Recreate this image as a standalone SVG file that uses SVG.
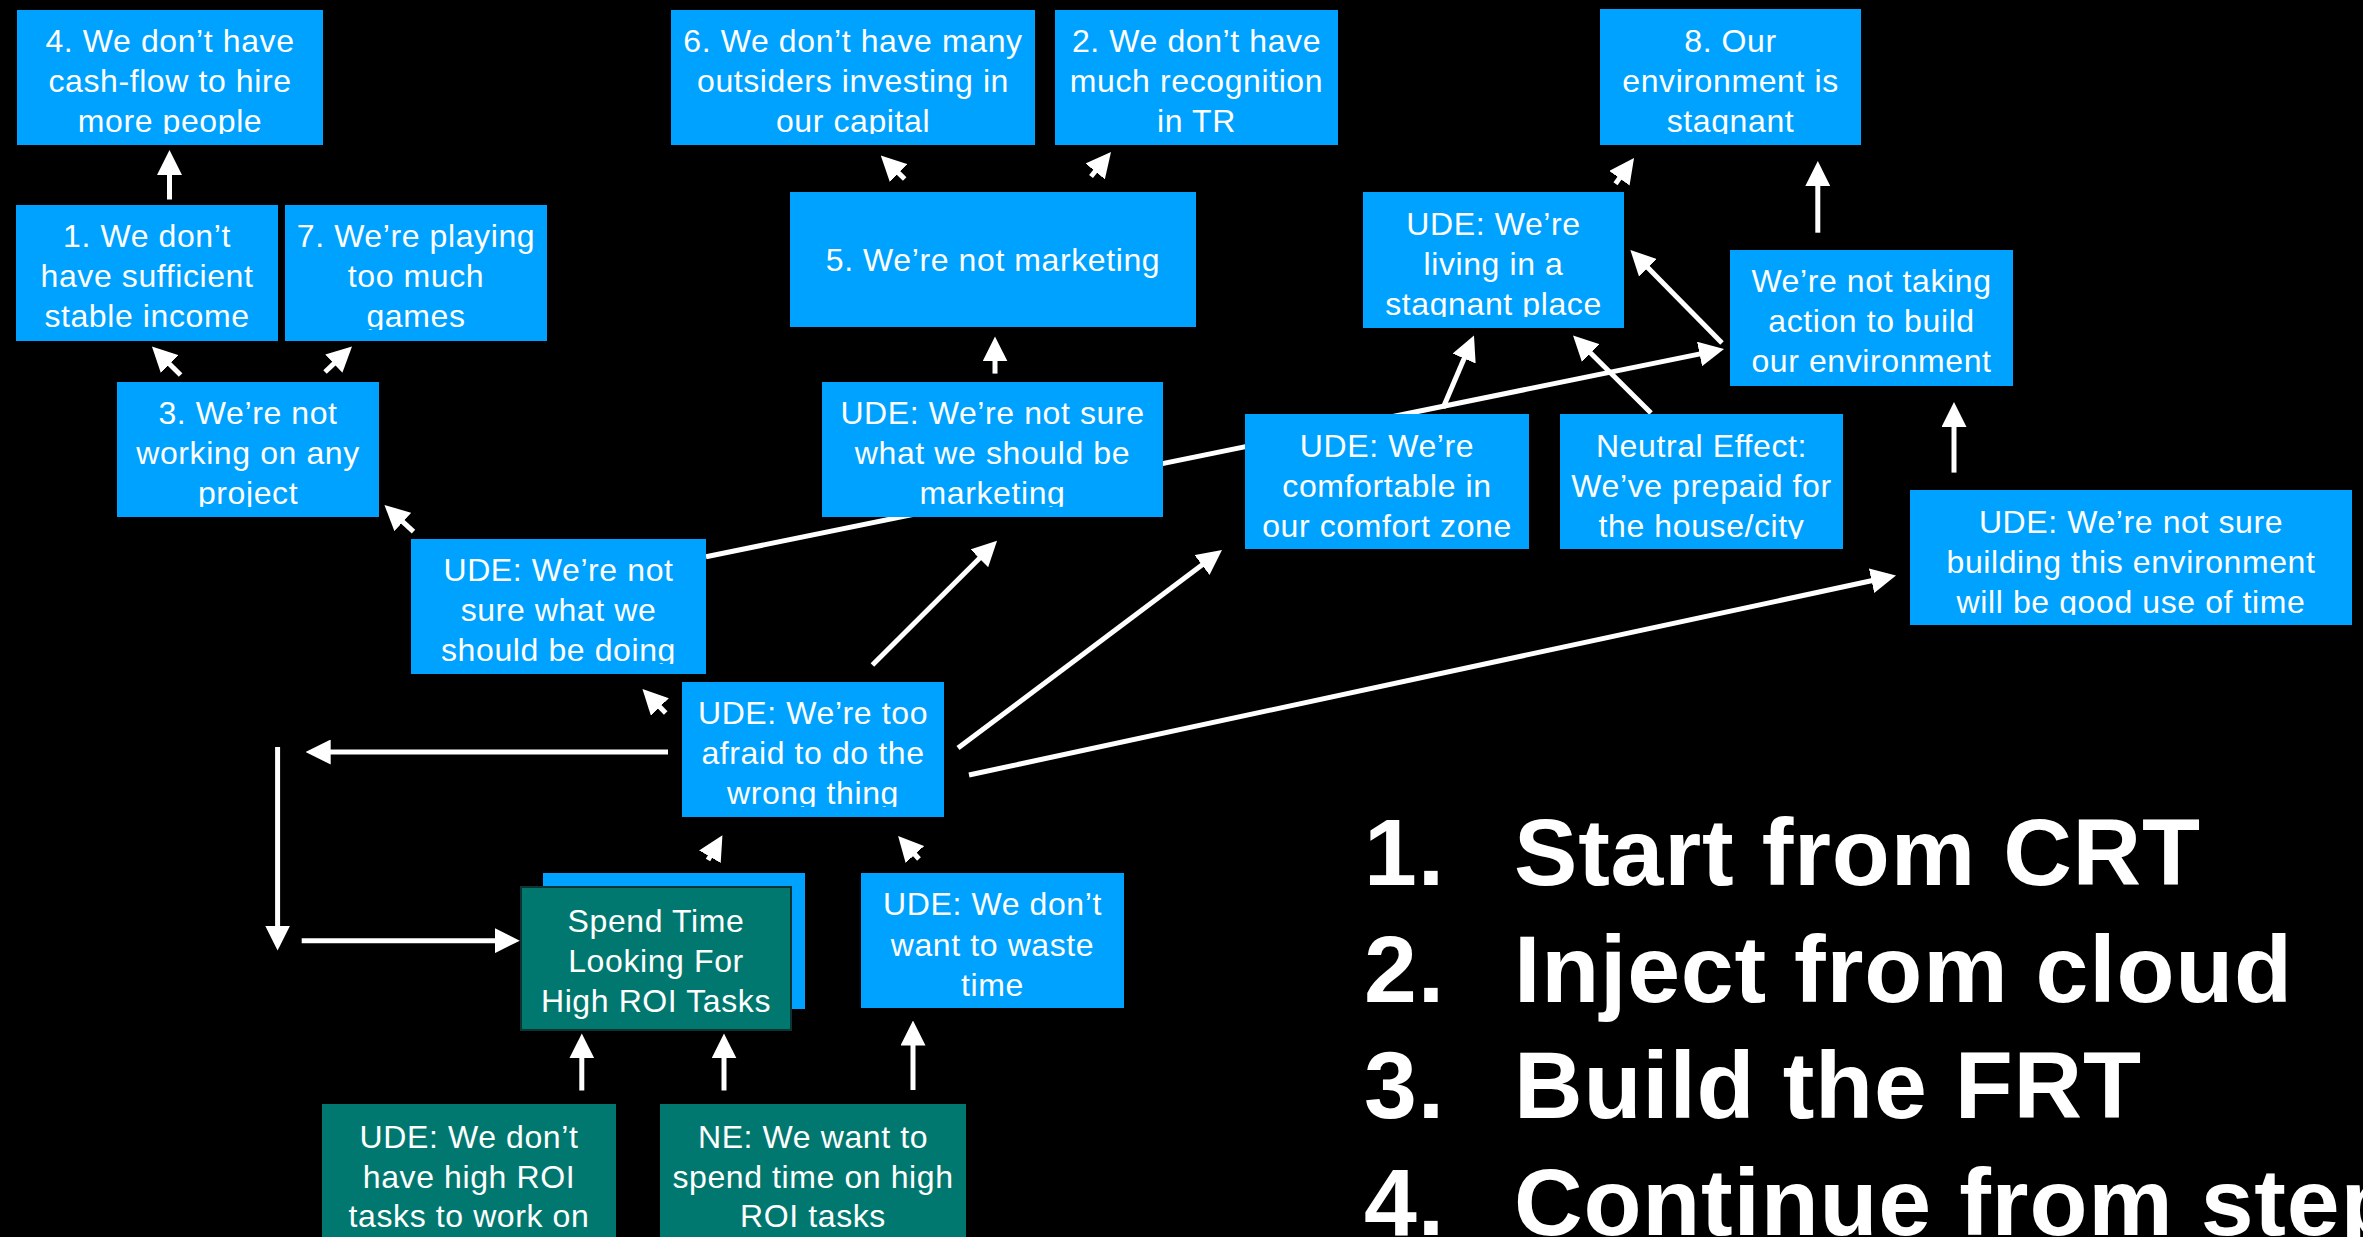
<svg xmlns="http://www.w3.org/2000/svg" width="2363" height="1237" viewBox="0 0 2363 1237">
  <defs>
    <style>
      .box{fill:#00A2FF}
      .teal{fill:#01786F}
      .t{font-family:"Liberation Sans",Arial,Helvetica,sans-serif;font-size:32px;letter-spacing:0.6px;fill:#ffffff;text-anchor:middle}
      .big{font-family:"Liberation Sans",Arial,Helvetica,sans-serif;font-size:95px;letter-spacing:0.8px;font-weight:bold;fill:#ffffff}
      .c{stroke:#ffffff;stroke-width:5;fill:none;marker-end:url(#ah)}
    </style>
    <marker id="ah" markerUnits="userSpaceOnUse" viewBox="0 0 25 25" markerWidth="25" markerHeight="25" refX="7" refY="12.5" orient="auto">
      <path d="M0,0 L25,12.5 L0,25 Z" fill="#ffffff"/>
    </marker>
    <!-- text frames: the text area stops short of each box's bottom edge -->
    <clipPath id="k-n4"><rect x="17" y="10" width="306" height="124"/></clipPath>
    <clipPath id="k-n1"><rect x="16" y="205" width="262" height="125"/></clipPath>
    <clipPath id="k-n7"><rect x="285" y="205" width="262" height="125"/></clipPath>
    <clipPath id="k-n3"><rect x="117" y="382" width="262" height="125"/></clipPath>
    <clipPath id="k-n6"><rect x="671" y="10" width="364" height="124"/></clipPath>
    <clipPath id="k-n2"><rect x="1055" y="10" width="283" height="124"/></clipPath>
    <clipPath id="k-mkt"><rect x="822" y="382" width="341" height="125"/></clipPath>
    <clipPath id="k-doing"><rect x="411" y="539" width="295" height="125"/></clipPath>
    <clipPath id="k-afraid"><rect x="682" y="682" width="262" height="125"/></clipPath>
    <clipPath id="k-n8"><rect x="1600" y="9" width="261" height="125"/></clipPath>
    <clipPath id="k-stag"><rect x="1363" y="192" width="261" height="125"/></clipPath>
    <clipPath id="k-take"><rect x="1730" y="250" width="283" height="125"/></clipPath>
    <clipPath id="k-comf"><rect x="1245" y="414" width="284" height="125"/></clipPath>
    <clipPath id="k-neut"><rect x="1560" y="414" width="283" height="125"/></clipPath>
    <clipPath id="k-build"><rect x="1910" y="490" width="442" height="125"/></clipPath>
  </defs>

  <rect x="0" y="0" width="2363" height="1237" fill="#000000"/>

  <g id="connectors">
    <line class="c" x1="169.5" y1="199.5" x2="169.5" y2="168"/>
    <line class="c" x1="180.6" y1="375" x2="164.7" y2="359.2"/>
    <line class="c" x1="325" y1="372" x2="338.9" y2="358.9"/>
    <line class="c" x1="413.5" y1="531.7" x2="397.7" y2="517.2"/>
    <line class="c" x1="904.7" y1="179" x2="893.6" y2="168.1"/>
    <line class="c" x1="1091" y1="176.5" x2="1099.6" y2="166"/>
    <line class="c" x1="995" y1="373.6" x2="995" y2="354.4"/>
    <line class="c" x1="706" y1="556.7" x2="1706.4" y2="352.6"/>
    <line class="c" x1="665.7" y1="713" x2="655" y2="702"/>
    <line class="c" x1="872.4" y1="665" x2="984.3" y2="553.4"/>
    <line class="c" x1="958" y1="748" x2="1207.6" y2="560.8"/>
    <line class="c" x1="969" y1="775" x2="1878.4" y2="579.3"/>
    <line class="c" x1="668" y1="752" x2="323.7" y2="752"/>
    <line class="c" x1="277.6" y1="747" x2="277.6" y2="932.6"/>
    <line class="c" x1="301.7" y1="940.7" x2="501.8" y2="940.7"/>
    <line class="c" x1="708" y1="860" x2="713.4" y2="850.7"/>
    <line class="c" x1="919" y1="859" x2="910.2" y2="849.3"/>
    <line class="c" x1="581.8" y1="1090.5" x2="581.8" y2="1051.4"/>
    <line class="c" x1="724" y1="1090.5" x2="724" y2="1051.4"/>
    <line class="c" x1="913" y1="1090" x2="913" y2="1038.5"/>
    <line class="c" x1="1615.5" y1="183.7" x2="1623.5" y2="172.6"/>
    <line class="c" x1="1817.8" y1="232.7" x2="1817.8" y2="179"/>
    <line class="c" x1="1722" y1="343" x2="1643" y2="262.8"/>
    <line class="c" x1="1443" y1="408" x2="1466.9" y2="352.1"/>
    <line class="c" x1="1651" y1="413" x2="1585.8" y2="348.2"/>
    <line class="c" x1="1954" y1="472.6" x2="1954" y2="420"/>
  </g>

  <g id="n4">
    <rect class="box" x="17" y="10" width="306" height="135"/>
    <text class="t" clip-path="url(#k-n4)"><tspan x="170" y="52">4. We don’t have</tspan><tspan x="170" y="92">cash-flow to hire</tspan><tspan x="170" y="132">more people</tspan></text>
  </g>
  <g id="n1">
    <rect class="box" x="16" y="205" width="262" height="136"/>
    <text class="t" clip-path="url(#k-n1)"><tspan x="147" y="247">1. We don’t</tspan><tspan x="147" y="287">have sufficient</tspan><tspan x="147" y="327">stable income</tspan></text>
  </g>
  <g id="n7">
    <rect class="box" x="285" y="205" width="262" height="136"/>
    <text class="t" clip-path="url(#k-n7)"><tspan x="416" y="247">7. We’re playing</tspan><tspan x="416" y="287">too much</tspan><tspan x="416" y="327">games</tspan></text>
  </g>
  <g id="n3">
    <rect class="box" x="117" y="382" width="262" height="135"/>
    <text class="t" clip-path="url(#k-n3)"><tspan x="248" y="424">3. We’re not</tspan><tspan x="248" y="464">working on any</tspan><tspan x="248" y="504">project</tspan></text>
  </g>
  <g id="n6">
    <rect class="box" x="671" y="10" width="364" height="135"/>
    <text class="t" clip-path="url(#k-n6)"><tspan x="853" y="52">6. We don’t have many</tspan><tspan x="853" y="92">outsiders investing in</tspan><tspan x="853" y="132">our capital</tspan></text>
  </g>
  <g id="n2">
    <rect class="box" x="1055" y="10" width="283" height="135"/>
    <text class="t" clip-path="url(#k-n2)"><tspan x="1196.5" y="52">2. We don’t have</tspan><tspan x="1196.5" y="92">much recognition</tspan><tspan x="1196.5" y="132">in TR</tspan></text>
  </g>
  <g id="n5">
    <rect class="box" x="790" y="192" width="406" height="135"/>
    <text class="t" x="993" y="270.5">5. We’re not marketing</text>
  </g>
  <g id="ude-marketing">
    <rect class="box" x="822" y="382" width="341" height="135"/>
    <text class="t" clip-path="url(#k-mkt)"><tspan x="992.5" y="424">UDE: We’re not sure</tspan><tspan x="992.5" y="464">what we should be</tspan><tspan x="992.5" y="504">marketing</tspan></text>
  </g>
  <g id="ude-doing">
    <rect class="box" x="411" y="539" width="295" height="135"/>
    <text class="t" clip-path="url(#k-doing)"><tspan x="558.5" y="581">UDE: We’re not</tspan><tspan x="558.5" y="621">sure what we</tspan><tspan x="558.5" y="661">should be doing</tspan></text>
  </g>
  <g id="ude-afraid">
    <rect class="box" x="682" y="682" width="262" height="135"/>
    <text class="t" clip-path="url(#k-afraid)"><tspan x="813" y="724">UDE: We’re too</tspan><tspan x="813" y="764">afraid to do the</tspan><tspan x="813" y="804">wrong thing</tspan></text>
  </g>
  <g id="n8">
    <rect class="box" x="1600" y="9" width="261" height="136"/>
    <text class="t" clip-path="url(#k-n8)"><tspan x="1730.5" y="52">8. Our</tspan><tspan x="1730.5" y="92">environment is</tspan><tspan x="1730.5" y="132">stagnant</tspan></text>
  </g>
  <g id="ude-stagnant">
    <rect class="box" x="1363" y="192" width="261" height="136"/>
    <text class="t" clip-path="url(#k-stag)"><tspan x="1493.5" y="235">UDE: We’re</tspan><tspan x="1493.5" y="275">living in a</tspan><tspan x="1493.5" y="315">stagnant place</tspan></text>
  </g>
  <g id="not-taking-action">
    <rect class="box" x="1730" y="250" width="283" height="136"/>
    <text class="t" clip-path="url(#k-take)"><tspan x="1871.5" y="292">We’re not taking</tspan><tspan x="1871.5" y="332">action to build</tspan><tspan x="1871.5" y="372">our environment</tspan></text>
  </g>
  <g id="ude-comfort">
    <rect class="box" x="1245" y="414" width="284" height="135"/>
    <text class="t" clip-path="url(#k-comf)"><tspan x="1387" y="457">UDE: We’re</tspan><tspan x="1387" y="497">comfortable in</tspan><tspan x="1387" y="537">our comfort zone</tspan></text>
  </g>
  <g id="neutral-effect">
    <rect class="box" x="1560" y="414" width="283" height="135"/>
    <text class="t" clip-path="url(#k-neut)"><tspan x="1701.5" y="457">Neutral Effect:</tspan><tspan x="1701.5" y="497">We’ve prepaid for</tspan><tspan x="1701.5" y="537">the house/city</tspan></text>
  </g>
  <g id="ude-building">
    <rect class="box" x="1910" y="490" width="442" height="135"/>
    <text class="t" clip-path="url(#k-build)"><tspan x="2131" y="533">UDE: We’re not sure</tspan><tspan x="2131" y="573">building this environment</tspan><tspan x="2131" y="613">will be good use of time</tspan></text>
  </g>
  <g id="ude-waste">
    <rect class="box" x="861" y="873" width="263" height="135"/>
    <text class="t"><tspan x="992.5" y="915">UDE: We don’t</tspan><tspan x="992.5" y="955.5">want to waste</tspan><tspan x="992.5" y="995.5">time</tspan></text>
  </g>
  <g id="spend-time">
    <rect class="box" x="543" y="873" width="262" height="136"/>
    <rect class="teal" x="521" y="887" width="270" height="143" stroke="#0c3532" stroke-width="2"/>
    <text class="t"><tspan x="656" y="932">Spend Time</tspan><tspan x="656" y="972">Looking For</tspan><tspan x="656" y="1012">High ROI Tasks</tspan></text>
  </g>
  <g id="ude-high-roi">
    <rect class="teal" x="322" y="1104" width="294" height="140"/>
    <text class="t"><tspan x="469" y="1147.5">UDE: We don’t</tspan><tspan x="469" y="1188">have high ROI</tspan><tspan x="469" y="1227">tasks to work on</tspan></text>
  </g>
  <g id="ne-high-roi">
    <rect class="teal" x="660" y="1104" width="306" height="140"/>
    <text class="t"><tspan x="813" y="1147.5">NE: We want to</tspan><tspan x="813" y="1188">spend time on high</tspan><tspan x="813" y="1227">ROI tasks</tspan></text>
  </g>

  <g id="steps">
    <text class="big" x="1364" y="885">1.</text>
    <text class="big" x="1514" y="885">Start from CRT</text>
    <text class="big" x="1364" y="1001.7">2.</text>
    <text class="big" x="1514" y="1001.7">Inject from cloud</text>
    <text class="big" x="1364" y="1118.3">3.</text>
    <text class="big" x="1514" y="1118.3">Build the FRT</text>
    <text class="big" x="1364" y="1235">4.</text>
    <text class="big" x="1514" y="1235">Continue from step</text>
  </g>
</svg>
